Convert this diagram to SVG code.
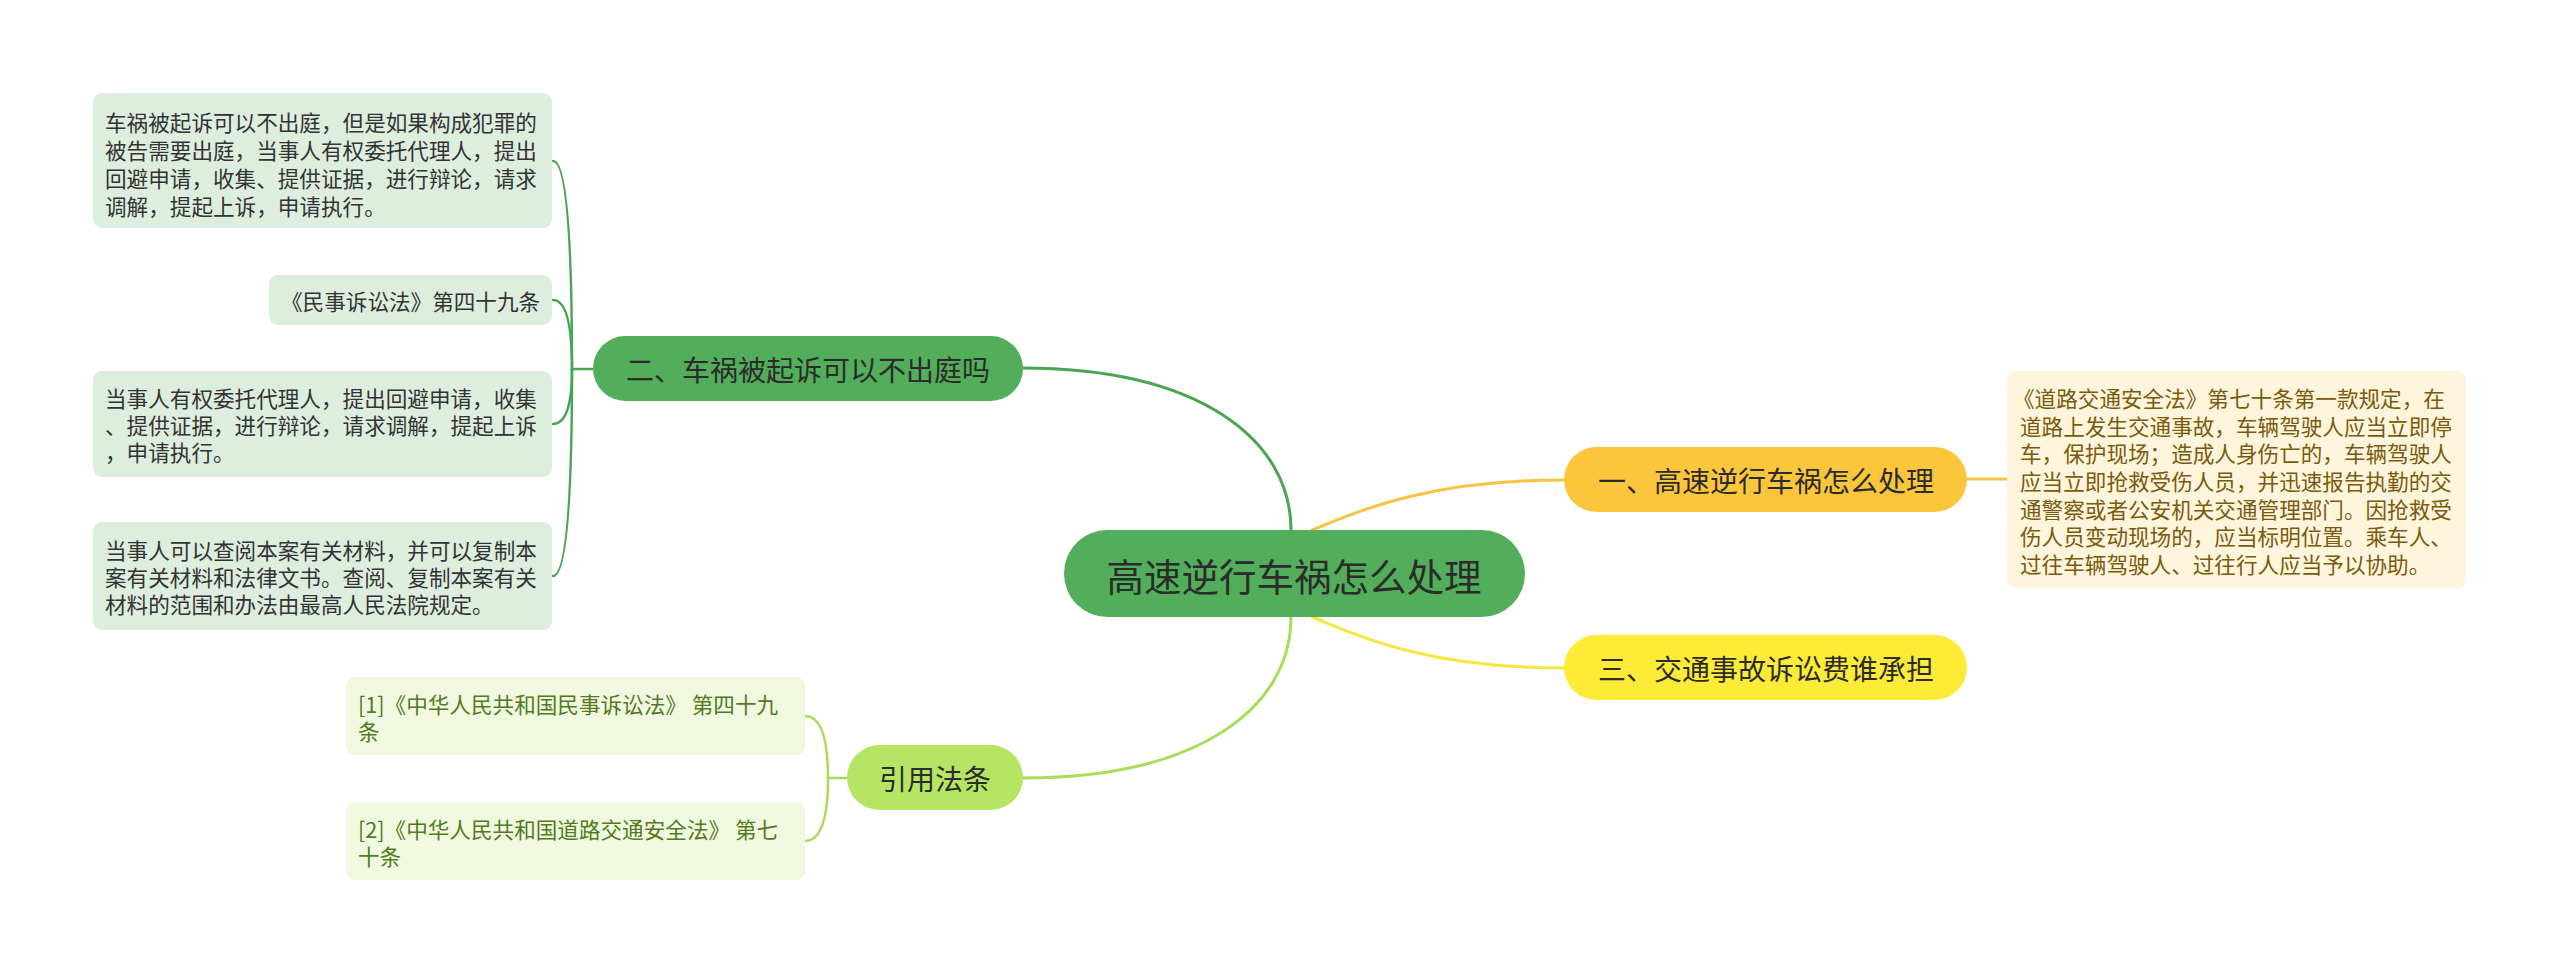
<svg xmlns="http://www.w3.org/2000/svg" width="2560" height="973" viewBox="0 0 2560 973">
<style>
text{font-family:"Noto Sans CJK SC","Noto Sans",sans-serif;}
.big{font-size:37.5px;fill:#2b2b2b;text-anchor:middle;dominant-baseline:central;}
.mid{font-size:28px;fill:#2b2b2b;text-anchor:middle;dominant-baseline:central;}
.sm{font-size:21.6px;dominant-baseline:central;}
.gtx{fill:#333333;}
.ctx{fill:#527a1e;}
.ytx{fill:#7a5a0c;}
.c{fill:none;stroke-linecap:round;}
</style>
<rect width="2560" height="973" fill="#ffffff"/>
<g id="connectors">
  <path class="c" d="M1291,530 C1291,440 1200,368 1022,368" stroke="#4aa553" stroke-width="3"/>
  <path class="c" d="M1312,530 C1350,515 1420,480 1564,480" stroke="#f6c343" stroke-width="3"/>
  <path class="c" d="M1312,617 C1350,632 1420,668 1564,668" stroke="#f8e640" stroke-width="3"/>
  <path class="c" d="M1291,617 C1291,707 1200,778 1023,778" stroke="#a9dc5b" stroke-width="3"/>
  <path class="c" d="M1967,479 H2007" stroke="#f6c343" stroke-width="3"/>
  <path class="c" d="M593,369 H572" stroke="#4aa553" stroke-width="2.5"/>
  <path class="c" d="M572,369 Q572,161 553,161" stroke="#4aa553" stroke-width="2.5"/>
  <path class="c" d="M572,369 Q572,300 553,300" stroke="#4aa553" stroke-width="2.5"/>
  <path class="c" d="M572,369 Q572,424 553,424" stroke="#4aa553" stroke-width="2.5"/>
  <path class="c" d="M572,369 Q572,576 553,576" stroke="#4aa553" stroke-width="2.5"/>
  <path class="c" d="M847,778 H828" stroke="#a9dc5b" stroke-width="2.5"/>
  <path class="c" d="M828,778 Q828,716 805,716" stroke="#a9dc5b" stroke-width="2.5"/>
  <path class="c" d="M828,778 Q828,841 805,841" stroke="#a9dc5b" stroke-width="2.5"/>
</g>
<g id="root">
  <rect x="1064" y="530" width="461" height="87" rx="43.5" fill="#52ae5a"/>
  <text class="big" x="1294" y="574">高速逆行车祸怎么处理</text>
</g>
<g id="n2">
  <rect x="593" y="336" width="430" height="65" rx="32.5" fill="#52ae5a"/>
  <text class="mid" x="808" y="369">二、车祸被起诉可以不出庭吗</text>
</g>
<g id="n1">
  <rect x="1564" y="447" width="403" height="65" rx="32.5" fill="#fcc63c"/>
  <text class="mid" x="1766" y="480">一、高速逆行车祸怎么处理</text>
</g>
<g id="n3">
  <rect x="1564" y="635" width="403" height="65" rx="32.5" fill="#fdeb37"/>
  <text class="mid" x="1766" y="668">三、交通事故诉讼费谁承担</text>
</g>
<g id="ncite">
  <rect x="847" y="745" width="176" height="65" rx="32.5" fill="#b5e562"/>
  <text class="mid" x="935" y="778">引用法条</text>
</g>
<g id="l1">
  <rect x="93" y="93" width="459" height="135" rx="9" fill="#ddeedf"/>
  <text class="sm gtx" x="105" y="121">车祸被起诉可以不出庭，但是如果构成犯罪的</text>
  <text class="sm gtx" x="105" y="149">被告需要出庭，当事人有权委托代理人，提出</text>
  <text class="sm gtx" x="105" y="177">回避申请，收集、提供证据，进行辩论，请求</text>
  <text class="sm gtx" x="105" y="205">调解，提起上诉，申请执行。</text>
</g>
<g id="l2">
  <rect x="269" y="275" width="283" height="50" rx="9" fill="#ddeedf"/>
  <text class="sm gtx" x="281" y="300">《民事诉讼法》第四十九条</text>
</g>
<g id="l3">
  <rect x="93" y="371" width="459" height="106" rx="9" fill="#ddeedf"/>
  <text class="sm gtx" x="105" y="397">当事人有权委托代理人，提出回避申请，收集</text>
  <text class="sm gtx" x="105" y="424">、提供证据，进行辩论，请求调解，提起上诉</text>
  <text class="sm gtx" x="105" y="451">，申请执行。</text>
</g>
<g id="l4">
  <rect x="93" y="522" width="459" height="108" rx="9" fill="#ddeedf"/>
  <text class="sm gtx" x="105" y="549">当事人可以查阅本案有关材料，并可以复制本</text>
  <text class="sm gtx" x="105" y="576">案有关材料和法律文书。查阅、复制本案有关</text>
  <text class="sm gtx" x="105" y="603">材料的范围和办法由最高人民法院规定。</text>
</g>
<g id="cite1">
  <rect x="346" y="677" width="459" height="78" rx="9" fill="#f0f9df"/>
  <text class="sm ctx" x="358" y="703">[1]《中华人民共和国民事诉讼法》 第四十九</text>
  <text class="sm ctx" x="358" y="730">条</text>
</g>
<g id="cite2">
  <rect x="346" y="802" width="459" height="78" rx="9" fill="#f0f9df"/>
  <text class="sm ctx" x="358" y="828">[2]《中华人民共和国道路交通安全法》 第七</text>
  <text class="sm ctx" x="358" y="855">十条</text>
</g>
<g id="r1">
  <rect x="2007" y="371" width="459" height="217" rx="9" fill="#fff5dc"/>
  <text class="sm ytx" x="2013" y="397">《道路交通安全法》第七十条第一款规定，在</text>
  <text class="sm ytx" x="2020" y="425">道路上发生交通事故，车辆驾驶人应当立即停</text>
  <text class="sm ytx" x="2020" y="452">车，保护现场；造成人身伤亡的，车辆驾驶人</text>
  <text class="sm ytx" x="2020" y="480">应当立即抢救受伤人员，并迅速报告执勤的交</text>
  <text class="sm ytx" x="2020" y="508">通警察或者公安机关交通管理部门。因抢救受</text>
  <text class="sm ytx" x="2020" y="535">伤人员变动现场的，应当标明位置。乘车人、</text>
  <text class="sm ytx" x="2020" y="563">过往车辆驾驶人、过往行人应当予以协助。</text>
</g>
</svg>
